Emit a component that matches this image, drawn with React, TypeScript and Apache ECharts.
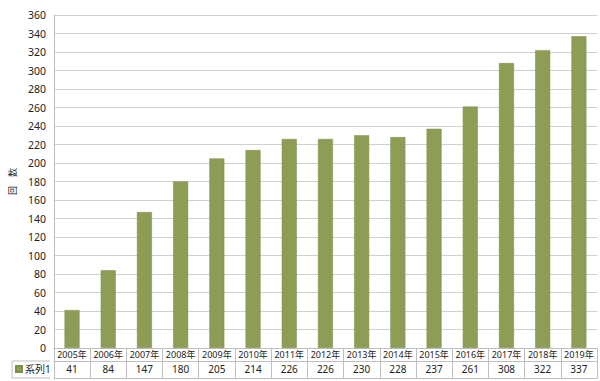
import React, { useEffect, useRef } from "react";
import * as echarts from "echarts";

const categories = ["2005年", "2006年", "2007年", "2008年", "2009年", "2010年", "2011年", "2012年", "2013年", "2014年", "2015年", "2016年", "2017年", "2018年", "2019年"];
const values = [41, 84, 147, 180, 205, 214, 226, 226, 230, 228, 237, 261, 308, 322, 337];
const seriesName = "系列1";
const yAxisTitle = "回　数";

const FONT = "'Noto Sans', 'Noto Sans CJK JP', sans-serif";
const LINE = "#bfbfbf";

export default function App() {
  const ref = useRef<HTMLDivElement>(null);
  useEffect(() => {
    if (!ref.current) return;
    const chart = echarts.init(ref.current, null, { renderer: "svg" });
    chart.setOption({
      animation: false,
      backgroundColor: "#ffffff",
      textStyle: { fontFamily: FONT },
      grid: { left: 50, right: 3, top: 15, bottom: 33, containLabel: false },
      legend: {
        left: 15,
        top: 364,
        itemWidth: 6,
        itemHeight: 6,
        itemGap: 3,
        icon: "rect",
        data: [seriesName],
        textStyle: { fontSize: 10, color: "#222", fontFamily: FONT, padding: [0, 0, 0, -2] },
        selectedMode: false,
        padding: 0,
      },
      xAxis: [
        {
          type: "category",
          data: categories,
          position: "bottom",
          axisLine: { show: true, lineStyle: { color: LINE } },
          axisTick: { show: true, length: 30, interval: 0, alignWithLabel: false, lineStyle: { color: LINE } },
          axisLabel: { interval: 0, margin: 2, fontSize: 9, color: "#222", fontFamily: FONT },
          splitLine: { show: false },
        },
        {
          type: "category",
          data: values.map(String),
          position: "bottom",
          offset: 13,
          axisLine: { show: true, lineStyle: { color: LINE } },
          axisTick: { show: false },
          axisLabel: { interval: 0, margin: 3, fontSize: 10, color: "#222", fontFamily: FONT },
          splitLine: { show: false },
        },
        {
          type: "category",
          data: categories,
          position: "bottom",
          offset: 30,
          axisLine: { show: true, lineStyle: { color: LINE } },
          axisTick: { show: false },
          axisLabel: { show: false },
        },
      ],
      yAxis: {
        type: "value",
        min: 0,
        max: 360,
        interval: 20,
        name: yAxisTitle,
        nameLocation: "middle",
        nameRotate: 90,
        nameGap: 31,
        nameTextStyle: { fontSize: 9, color: "#222", fontFamily: FONT },
        axisLine: { show: true, lineStyle: { color: LINE } },
        axisTick: { show: false },
        axisLabel: { fontSize: 10.5, color: "#222", margin: 8, fontFamily: FONT },
        splitLine: { show: true, lineStyle: { color: "#d0d0d0" } },
      },
      series: [
        {
          name: seriesName,
          type: "bar",
          data: values,
          xAxisIndex: 0,
          barWidth: 15,
          itemStyle: { color: "#8d9d56", borderColor: "#7f8f4a", borderWidth: 0.5 },
        },
      ],
      graphic: [
        { type: "line", shape: { x1: 12, y1: 361, x2: 50, y2: 361 }, style: { stroke: LINE, lineWidth: 1 } },
        { type: "line", shape: { x1: 12, y1: 378, x2: 50, y2: 378 }, style: { stroke: LINE, lineWidth: 1 } },
        { type: "line", shape: { x1: 12, y1: 361, x2: 12, y2: 378 }, style: { stroke: LINE, lineWidth: 1 } },
      ],
    });
    return () => chart.dispose();
  }, []);
  return <div ref={ref} style={{ position: "fixed", left: 0, top: 0, width: 600, height: 381 }} />;
}
